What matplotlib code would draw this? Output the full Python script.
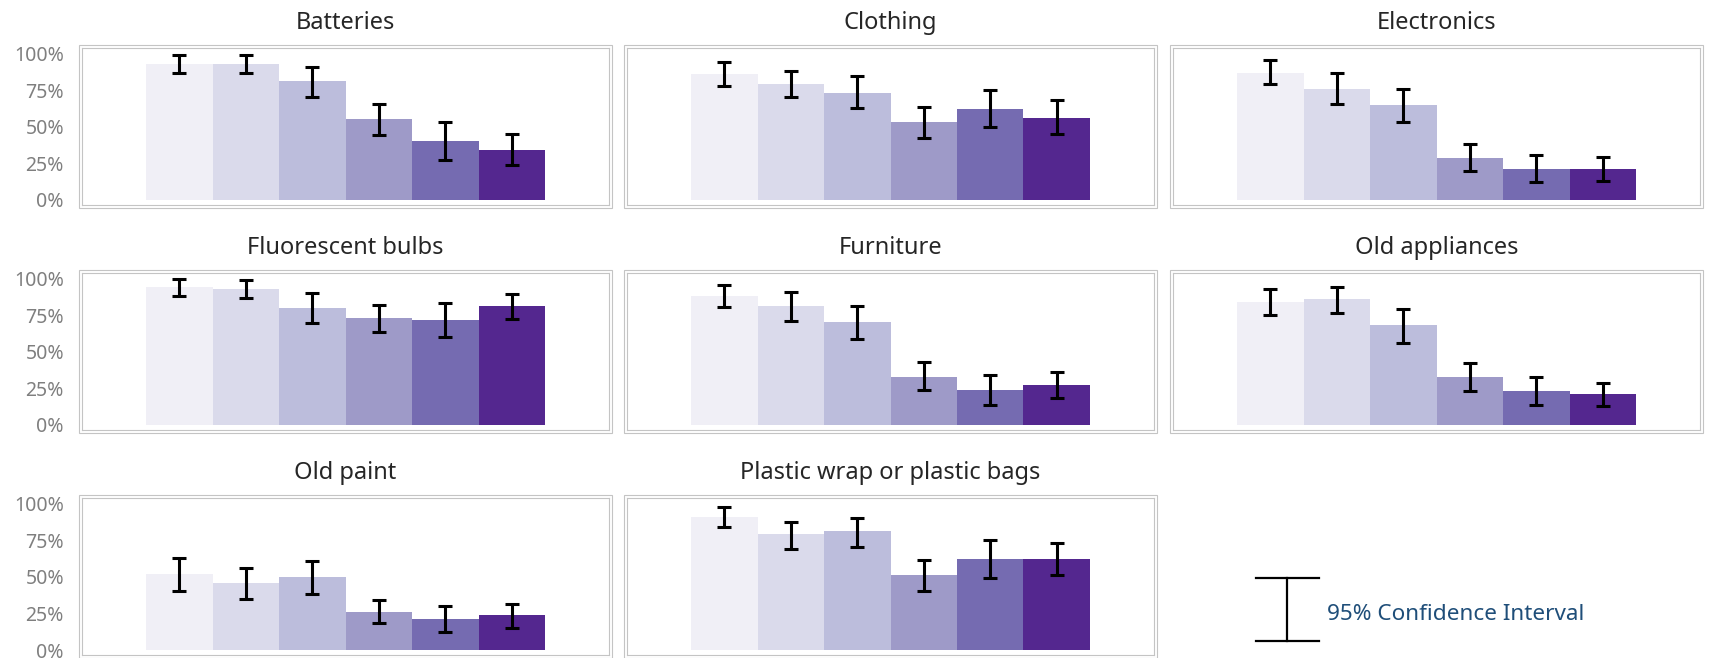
import numpy as np
import matplotlib
matplotlib.use("Agg")
import matplotlib.pyplot as plt
from matplotlib.patches import Rectangle
from matplotlib.lines import Line2D

plt.rcParams['font.family'] = ['Noto Sans', 'DejaVu Sans']

# ---- data -------------------------------------------------------------
categories = ["Batteries", "Clothing", "Electronics",
              "Fluorescent bulbs", "Furniture", "Old appliances",
              "Old paint", "Plastic wrap or plastic bags"]

# share of respondents per group (six groups per item)
values = [
    [0.93, 0.93, 0.81, 0.55, 0.40, 0.34],
    [0.86, 0.79, 0.73, 0.53, 0.62, 0.56],
    [0.87, 0.76, 0.65, 0.29, 0.21, 0.21],
    [0.94, 0.93, 0.80, 0.73, 0.72, 0.81],
    [0.88, 0.81, 0.70, 0.33, 0.24, 0.27],
    [0.84, 0.86, 0.68, 0.33, 0.23, 0.21],
    [0.52, 0.46, 0.50, 0.26, 0.21, 0.24],
    [0.91, 0.79, 0.81, 0.51, 0.62, 0.62],
]
# 95% confidence interval bounds
ci_low = [
    [0.865, 0.865, 0.705, 0.445, 0.27, 0.24],
    [0.78, 0.70, 0.625, 0.425, 0.50, 0.45],
    [0.79, 0.655, 0.53, 0.20, 0.12, 0.13],
    [0.88, 0.87, 0.695, 0.635, 0.60, 0.725],
    [0.805, 0.71, 0.59, 0.24, 0.135, 0.185],
    [0.75, 0.765, 0.56, 0.235, 0.135, 0.13],
    [0.40, 0.35, 0.385, 0.185, 0.125, 0.15],
    [0.84, 0.69, 0.70, 0.405, 0.49, 0.51],
]
ci_high = [
    [0.99, 0.99, 0.905, 0.655, 0.535, 0.45],
    [0.945, 0.88, 0.845, 0.635, 0.75, 0.68],
    [0.955, 0.865, 0.76, 0.38, 0.305, 0.295],
    [0.995, 0.99, 0.90, 0.82, 0.835, 0.895],
    [0.955, 0.905, 0.815, 0.43, 0.34, 0.365],
    [0.925, 0.945, 0.795, 0.425, 0.33, 0.29],
    [0.63, 0.56, 0.605, 0.34, 0.30, 0.315],
    [0.975, 0.875, 0.90, 0.615, 0.75, 0.73],
]
ytick_values = [0, 0.25, 0.5, 0.75, 1.0]
ytick_labels = ["0%", "25%", "50%", "75%", "100%"]
bar_colors = ["#f0eff6", "#dadaeb", "#bcbddc", "#9e9ac8", "#756bb1", "#54278f"]
legend_text = "95% Confidence Interval"

# ---- layout (pixels) ----------------------------------------------------
W, H = 1711, 658
fig = plt.figure(figsize=(W / 100, H / 100), dpi=100)
fig.patch.set_facecolor("white")

col_left = [79, 624, 1170]
row_top = [45, 270, 495]
box_w, box_h = 533, 163
gap = 3
border = "#c4c4c4"

px_per_unit_x = 66.5
px_per_unit_y = 146.5
inner_w = box_w - 2 * gap
inner_h = box_h - 2 * gap
x_left = -0.5 - 64 / px_per_unit_x
y_bottom = -5 / px_per_unit_y


def fx(px):
    return px / W


def fy(py):
    return 1 - py / H


for i, (name, vals, lo, hi) in enumerate(zip(categories, values, ci_low, ci_high)):
    r, c = divmod(i, 3)
    L, T = col_left[c], row_top[r]
    ax = fig.add_axes([fx(L + gap), fy(T + gap + inner_h), inner_w / W, inner_h / H])
    vals = np.array(vals)
    lo = np.array(lo)
    hi = np.array(hi)
    x = np.arange(len(vals))
    ax.bar(x, vals, width=1.0, color=bar_colors, linewidth=0)
    ax.errorbar(x, vals, yerr=[vals - lo, hi - vals], fmt="none",
                ecolor="black", elinewidth=2.2, capsize=5, capthick=2.2)
    ax.set_xlim(x_left, x_left + inner_w / px_per_unit_x)
    ax.set_ylim(y_bottom, y_bottom + inner_h / px_per_unit_y)
    ax.set_xticks([])
    ax.set_yticks(ytick_values)
    if c == 0:
        ax.set_yticklabels(ytick_labels, color="#7f7f7f", fontsize=14)
    else:
        ax.set_yticklabels([])
    ax.tick_params(axis="y", length=0, pad=13)
    for s in ax.spines.values():
        s.set_color(border)
        s.set_linewidth(0.8)
    # outer frame
    fig.add_artist(Rectangle((fx(L), fy(T + box_h)), box_w / W, box_h / H,
                             transform=fig.transFigure, fill=False,
                             edgecolor=border, linewidth=0.8))
    fig.text(fx(L + box_w / 2), fy(T - 22), name, ha="center", va="center",
             fontsize=17, color="#262626")

# legend for the error bars
lx, ltop, lbot, lcap = 1287, 578, 641, 31.5
fig.add_artist(Line2D([fx(lx), fx(lx)], [fy(ltop), fy(lbot)],
                      transform=fig.transFigure, color="black", linewidth=1.6))
for yy in (ltop, lbot):
    fig.add_artist(Line2D([fx(lx - lcap), fx(lx + lcap)], [fy(yy), fy(yy)],
                          transform=fig.transFigure, color="black", linewidth=1.6))
fig.text(fx(1327), fy(615), legend_text, ha="left", va="center",
         fontsize=16.2, color="#1f4e79")

fig.savefig("out.png", dpi=100, facecolor="white")
